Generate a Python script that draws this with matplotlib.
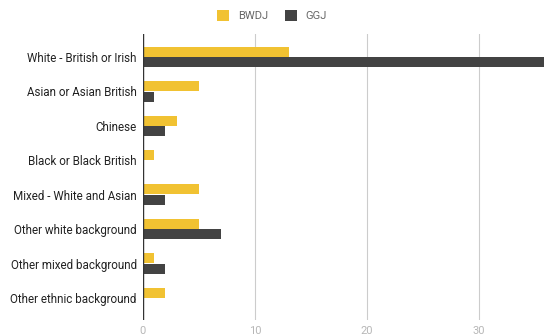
import matplotlib
matplotlib.use("Agg")
import matplotlib.pyplot as plt
import numpy as np

categories = ["White - British or Irish", "Asian or Asian British", "Chinese",
              "Black or Black British", "Mixed - White and Asian",
              "Other white background", "Other mixed background",
              "Other ethnic background"]
bwdj = [13, 5, 3, 1, 5, 5, 1, 2]
ggj = [38, 1, 2, 0, 2, 7, 2, 0]
xticks = [0, 10, 20, 30]

plt.rcParams['font.family'] = ['Roboto', 'DejaVu Sans']

fig = plt.figure(figsize=(5.44, 3.36), dpi=100)
ax = fig.add_axes([143/544, 1-320/336, 1-143/544, (320-34)/336])

y = np.arange(len(categories))
h = 0.29
ax.barh(y - h/2 - 0.01, bwdj, height=h, color="#f1c232", label="BWDJ", zorder=3)
ax.barh(y + h/2 + 0.01, ggj, height=h, color="#434343", label="GGJ", zorder=3)

ax.set_xlim(0, 35.8)
ax.set_ylim(7.64, -0.67)
ax.set_yticks(y)
ax.set_yticklabels(categories, fontsize=8.35, color="#222222")
ax.set_xticks(xticks)
ax.set_xticklabels([str(t) for t in xticks], fontsize=8, color="#b7b7b7")
ax.tick_params(length=0)
ax.tick_params(axis='y', pad=4.5)
ax.tick_params(axis='x', pad=4)
ax.grid(axis='x', color="#cccccc", linewidth=0.8, zorder=0)
for s in ax.spines.values():
    s.set_visible(False)
ax.axvline(0, color="#333333", linewidth=1, zorder=4)

fig.legend(loc="upper center", bbox_to_anchor=(0.5, 1.0), ncol=2, frameon=False,
           fontsize=8, handlelength=1.1, handleheight=1.2, columnspacing=1.5,
           labelcolor="#666666")

fig.savefig("out.png", dpi=100)
